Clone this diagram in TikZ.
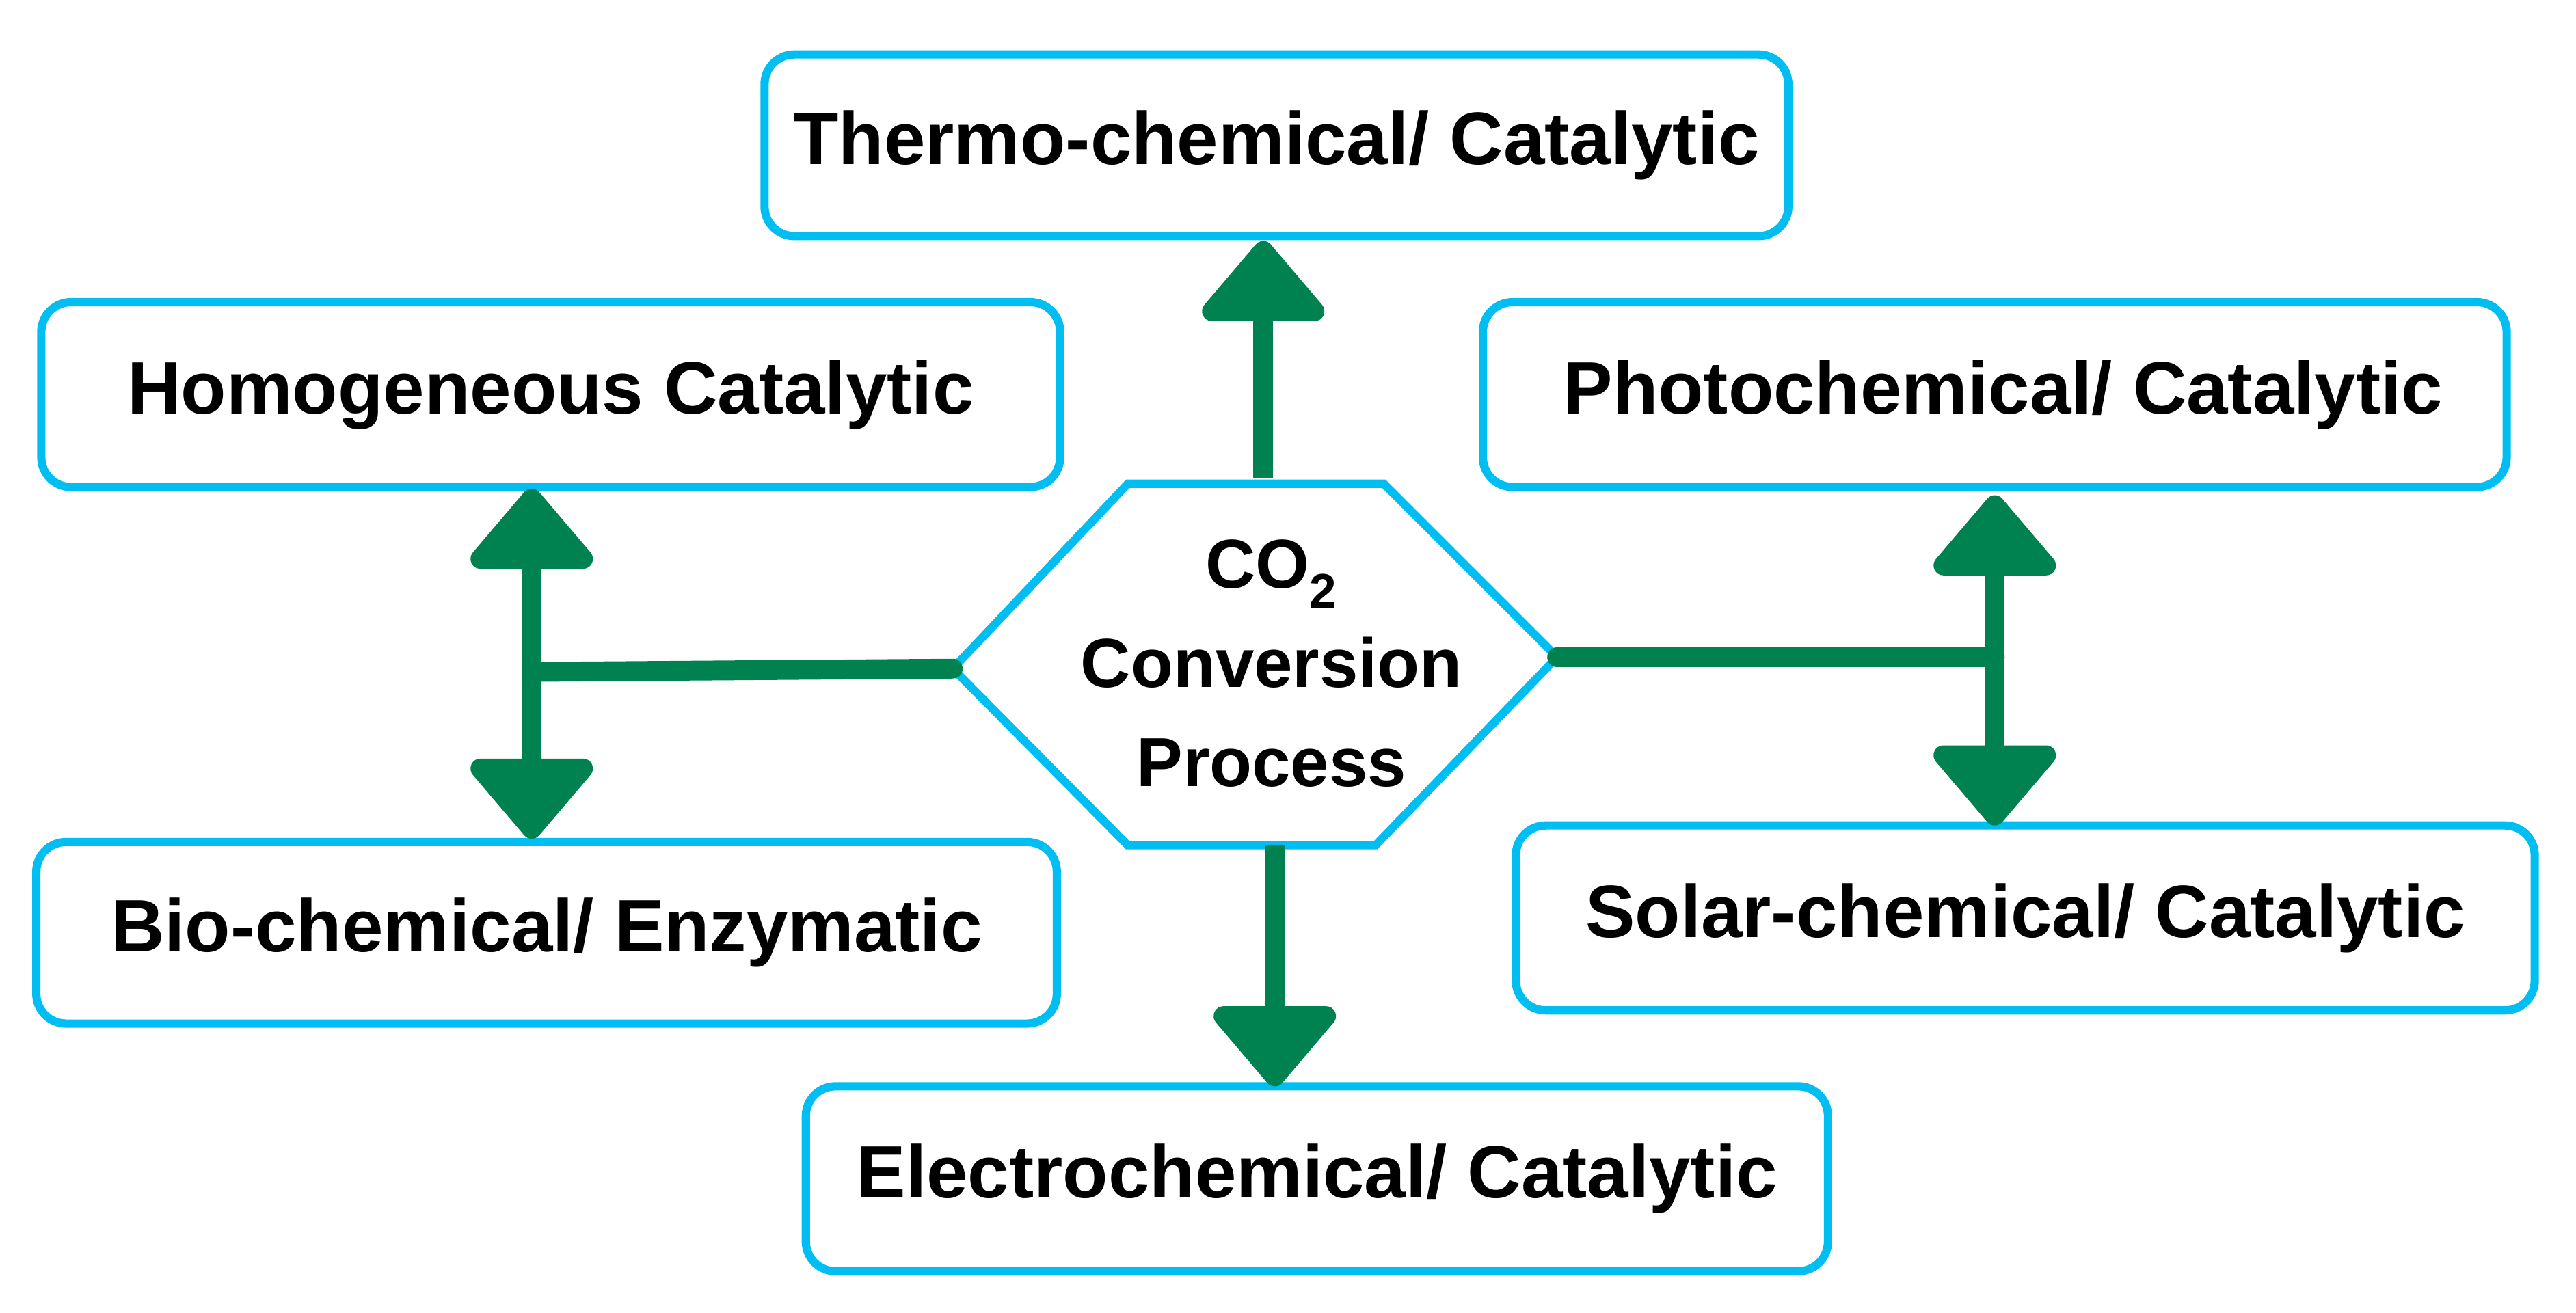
\documentclass[tikz,border=0pt]{standalone}
\usepackage{fontspec}
\setmainfont{Liberation Sans}
\usetikzlibrary{arrows.meta}
\definecolor{boxc}{RGB}{0,190,242}
\definecolor{arrc}{RGB}{0,130,80}
\begin{document}
\begin{tikzpicture}[x=1pt,y=-1pt,
  box/.style={draw=boxc,line width=5pt,rounded corners=18pt,fill=white,font=\fontsize{45}{54}\selectfont\bfseries,inner sep=0pt},
  arr/.style={draw=arrc,line width=12pt,-{Triangle[width=85pt,length=52pt,round]}},
  darr/.style={draw=arrc,line width=12pt,{Triangle[width=85pt,length=52pt,round]}-{Triangle[width=85pt,length=52pt,round]}},
  lin/.style={draw=arrc,line width=12pt,line cap=round}]
\useasboundingbox (0,0) rectangle (1560,795);
\node[box,minimum width=620pt,minimum height=110pt] (thermo) at (773,88) {Thermo-chemical/ Catalytic};
\node[box,minimum width=617pt,minimum height=112pt] (homo) at (333.5,239) {Homogeneous Catalytic};
\node[box,minimum width=620pt,minimum height=112pt] (photo) at (1208,239) {\hspace{10pt}Photochemical/ Catalytic};
\node[box,minimum width=618pt,minimum height=110pt] (bio) at (331,565) {Bio-chemical/ Enzymatic};
\node[box,minimum width=617pt,minimum height=112pt] (solar) at (1226.5,556) {Solar-chemical/ Catalytic};
\node[box,minimum width=619pt,minimum height=112pt] (electro) at (797.5,714) {Electrochemical/ Catalytic};
\coordinate (h1) at (683,293); \coordinate (h2) at (838,293); \coordinate (h3) at (943,398);
\coordinate (h4) at (833,512); \coordinate (h5) at (683,512); \coordinate (h6) at (577,405);
\draw[boxc,line width=5pt,line join=miter] (h1)--(h2)--(h3)--(h4)--(h5)--(h6)--cycle;
\node[align=center,font=\fontsize{42}{60}\selectfont\bfseries] (hex) at (770,402) {CO\textsubscript{2}\\Conversion\\Process};
\coordinate (tTop) at (765,290); \coordinate (tEnd) at (765,146);
\coordinate (bTop) at (772,512); \coordinate (bEnd) at (772,658);
\coordinate (lU) at (322,296); \coordinate (lD) at (322,508); \coordinate (lJ) at (322,407);
\coordinate (rU) at (1208,300); \coordinate (rD) at (1208,500); \coordinate (rJ) at (1208,398);
\draw[arr] (tTop) -- (tEnd);
\draw[arr] (bTop) -- (bEnd);
\draw[darr] (lU) -- (lD);
\draw[darr] (rU) -- (rD);
\draw[lin] (h6) -- (lJ);
\draw[lin] (h3) -- (rJ);
\end{tikzpicture}
\end{document}
